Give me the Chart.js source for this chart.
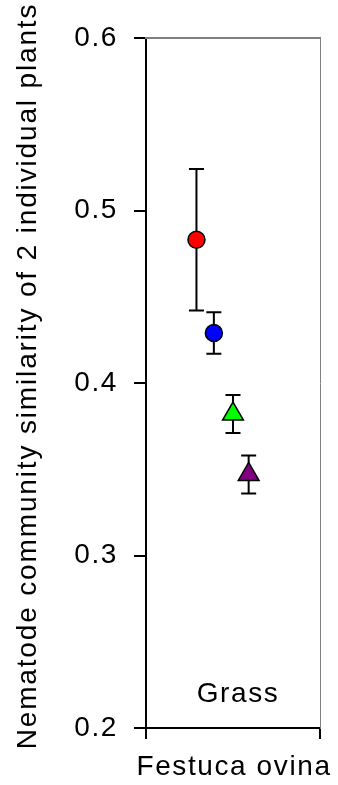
<!DOCTYPE html>
<html>
<head>
<meta charset="utf-8">
<script src="https://cdn.jsdelivr.net/npm/chart.js@4/dist/chart.umd.min.js"></script>
<style>
  body { margin: 0; background: #fff; }
  #wrap { width: 338px; height: 785px; }
</style>
</head>
<body>
<div id="wrap"><canvas id="myChart" width="338" height="785"></canvas></div>
<script>
// data
var species = 'Festuca ovina';
var groupLabel = 'Grass';
var yTitle = 'Nematode community similarity of 2 individual plants';
var yTicks = [0.2, 0.3, 0.4, 0.5, 0.6];
var xOffsets = [0.29, 0.39, 0.50, 0.59];   // horizontal dodge of each group
var means = [0.483, 0.429, 0.382, 0.347];
var errors = [0.041, 0.012, 0.011, 0.011];
var colors = ['#FF0000', '#0000FF', '#00FF00', '#800080'];
var shapes = ['circle', 'circle', 'triangle', 'triangle'];

var FONT = 'Liberation Sans, Arial, Helvetica, sans-serif';

// error bars, drawn under the markers
var errorBars = {
    id: 'errorBars',
    beforeDatasetsDraw: function(chart) {
        var ctx = chart.ctx;
        var xs = chart.scales.x, ys = chart.scales.y;
        ctx.save();
        ctx.strokeStyle = '#000';
        ctx.lineWidth = 2;
        for (var i = 0; i < means.length; i++) {
            var px = xs.getPixelForValue(xOffsets[i]);
            var top = ys.getPixelForValue(means[i] + errors[i]);
            var bot = ys.getPixelForValue(means[i] - errors[i]);
            ctx.beginPath();
            ctx.moveTo(px, top); ctx.lineTo(px, bot);
            ctx.moveTo(px - 7.5, top); ctx.lineTo(px + 7.5, top);
            ctx.moveTo(px - 7.5, bot); ctx.lineTo(px + 7.5, bot);
            ctx.stroke();
        }
        ctx.restore();
    }
};

// axis titles and the "Grass" label, drawn without chart.js's maxWidth squeeze
var textBits = {
    id: 'textBits',
    beforeDraw: function(chart) {
        chart.ctx.letterSpacing = '1.6px';
    },
    afterDraw: function(chart) {
        var ctx = chart.ctx, a = chart.chartArea;
        var midX = (a.left + a.right) / 2;
        ctx.save();
        ctx.letterSpacing = '1.6px';
        ctx.fillStyle = '#000';
        ctx.font = '28px ' + FONT;
        ctx.textAlign = 'center';
        ctx.textBaseline = 'alphabetic';
        ctx.fillText(groupLabel, midX + 5, a.bottom - 26);
        ctx.fillText(species, midX + 1, chart.height - 10);
        ctx.letterSpacing = '1.85px';
        ctx.translate(36, (a.top + a.bottom) / 2 - 7);
        ctx.rotate(-Math.PI / 2);
        ctx.fillText(yTitle, 0, 0);
        ctx.restore();
    }
};

var datasets = means.map(function(m, i) {
    return {
        data: [{ x: xOffsets[i], y: m }],
        pointStyle: shapes[i],
        pointRadius: shapes[i] === 'circle' ? 8.5 : 12,
        pointHoverRadius: shapes[i] === 'circle' ? 8.5 : 12,
        backgroundColor: colors[i],
        borderColor: '#000',
        borderWidth: 1.5
    };
});

var ctx = document.getElementById('myChart').getContext('2d');
var myChart = new Chart(ctx, {
    type: 'scatter',
    data: { datasets: datasets },
    plugins: [errorBars, textBits],
    options: {
        responsive: false,
        animation: false,
        layout: { padding: 0 },
        plugins: { legend: { display: false }, tooltip: { enabled: false } },
        scales: {
            x: {
                type: 'linear', position: 'bottom', min: 0, max: 1,
                ticks: { stepSize: 1, callback: function() { return ''; } },
                grid: { drawOnChartArea: false, drawTicks: true, tickLength: 11, color: '#000', lineWidth: 2 },
                border: { color: '#000', width: 2 },
                afterFit: function(s) { s.height = 57; }
            },
            y: {
                type: 'linear', position: 'left',
                min: yTicks[0], max: yTicks[yTicks.length - 1],
                afterBuildTicks: function(s) {
                    s.ticks = yTicks.map(function(v) { return { value: v }; });
                },
                ticks: {
                    color: '#000', padding: 16,
                    font: { family: FONT, size: 28 },
                    callback: function(v) { return v.toFixed(1); }
                },
                grid: { drawOnChartArea: false, drawTicks: true, tickLength: 12, color: '#000', lineWidth: 2 },
                border: { color: '#000', width: 2 },
                afterFit: function(s) { s.width = 146; }
            },
            xTop: {
                type: 'linear', position: 'top', display: true,
                ticks: { display: false }, grid: { display: false },
                border: { color: '#808080', width: 2 },
                afterFit: function(s) { s.height = 38; }
            },
            yRight: {
                type: 'linear', position: 'right', display: true,
                ticks: { display: false }, grid: { display: false },
                border: { color: '#808080', width: 1, dash: [1, 1] },
                afterFit: function(s) { s.width = 18; }
            }
        }
    }
});
</script>
</body>
</html>
